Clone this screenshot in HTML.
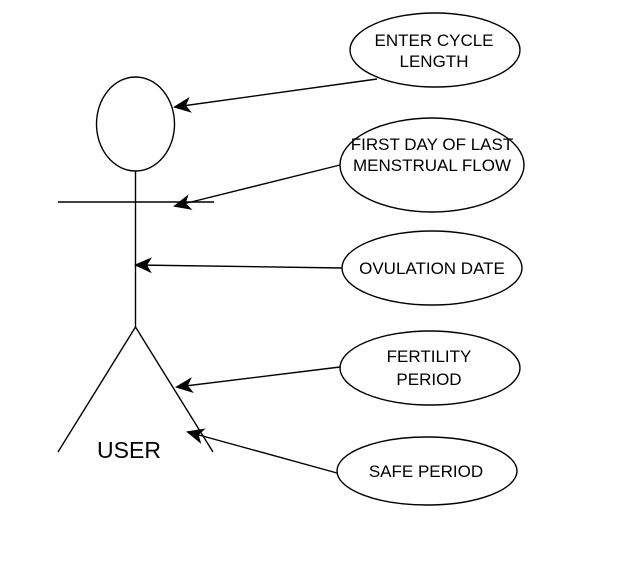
<!DOCTYPE html>
<html><head><style>body{margin:0;background:#fff}</style></head><body>
<svg width="640" height="567" xmlns="http://www.w3.org/2000/svg" font-family="Liberation Sans, sans-serif">
<defs><marker id="a" markerWidth="18" markerHeight="16" refX="16" refY="8" orient="auto" markerUnits="userSpaceOnUse"><path d="M0,0 L18,8 L0,16 L5,8 Z" fill="#000"/></marker></defs>
<g fill="none" stroke="#000" stroke-width="1.4">
<ellipse cx="135.5" cy="124" rx="39" ry="47"/>
<line x1="135.5" y1="171" x2="135.5" y2="327"/>
<line x1="58" y1="202" x2="214" y2="202"/>
<line x1="135.5" y1="327" x2="58" y2="452"/>
<line x1="135.5" y1="327" x2="213" y2="452"/>
<ellipse cx="435" cy="50" rx="85" ry="37"/>
<ellipse cx="432" cy="165" rx="92" ry="47"/>
<ellipse cx="432" cy="268" rx="90" ry="37"/>
<ellipse cx="430" cy="368" rx="90" ry="37"/>
<ellipse cx="427" cy="471" rx="90" ry="34"/>
<line x1="377" y1="79" x2="175" y2="107" marker-end="url(#a)"/>
<line x1="340" y1="165" x2="175" y2="206" marker-end="url(#a)"/>
<line x1="342" y1="268" x2="136" y2="265" marker-end="url(#a)"/>
<line x1="340" y1="367" x2="177" y2="387" marker-end="url(#a)"/>
<line x1="337" y1="473" x2="188" y2="432" marker-end="url(#a)"/>
</g>
<g font-size="17" text-anchor="middle" fill="#000">
<text x="434" y="46">ENTER CYCLE</text><text x="434" y="67">LENGTH</text>
<text x="432" y="150">FIRST DAY OF LAST</text><text x="432" y="171">MENSTRUAL FLOW</text>
<text x="432" y="274">OVULATION DATE</text>
<text x="429" y="362">FERTILITY</text><text x="429" y="385">PERIOD</text>
<text x="426" y="477">SAFE PERIOD</text>
<text x="129" y="458" font-size="23">USER</text>
</g>
</svg>
</body></html>
